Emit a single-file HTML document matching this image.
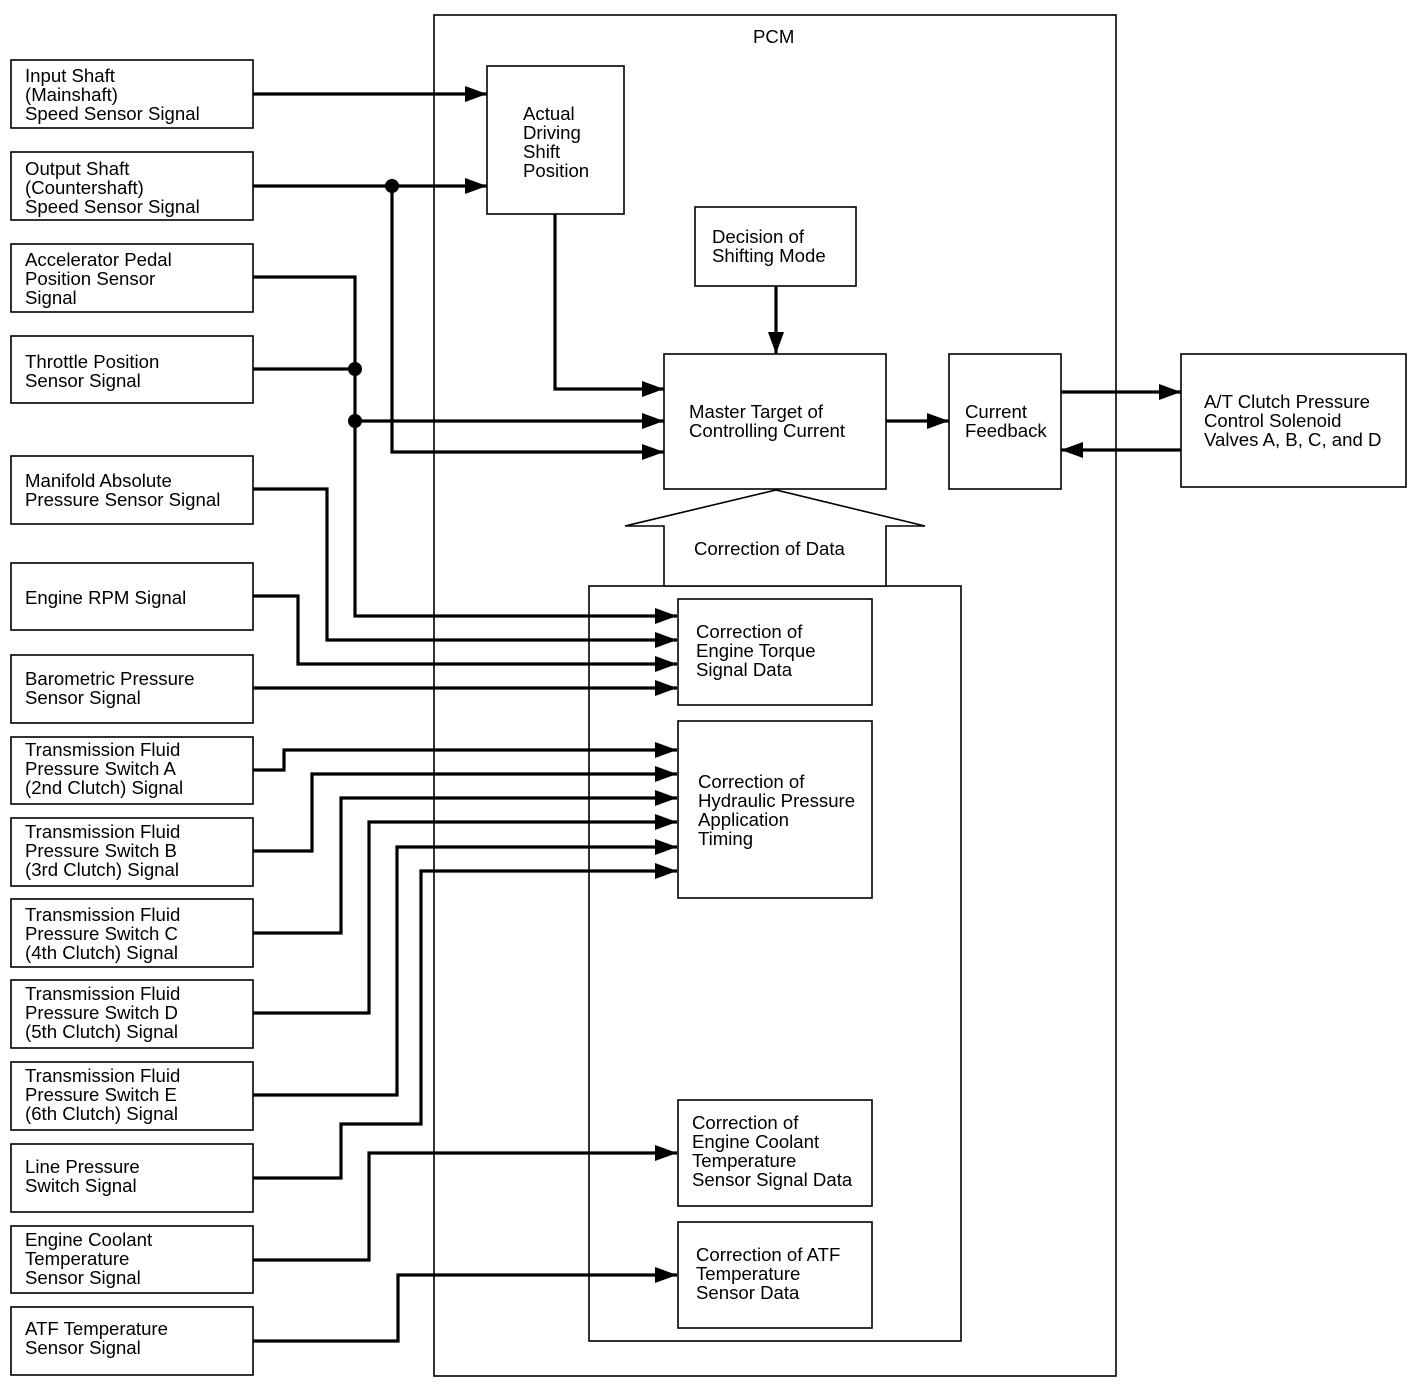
<!DOCTYPE html>
<html><head><meta charset="utf-8"><style>
html,body{margin:0;padding:0;background:#fff}
svg{display:block}
text{font-family:"Liberation Sans",Arial,sans-serif;font-size:18.6px;fill:#000}
</style></head><body>
<svg width="1422" height="1390" viewBox="0 0 1422 1390" xmlns="http://www.w3.org/2000/svg">
<defs>
<marker id="a" markerWidth="22" markerHeight="16" refX="22" refY="8" orient="auto" markerUnits="userSpaceOnUse">
<path d="M0,0 L22,8 L0,16 Z" fill="#000"/>
</marker>
</defs>
<g fill="none" stroke="#000" stroke-width="1.6">
<rect x="434" y="15" width="682" height="1361"/>
<rect x="589" y="586" width="372" height="755"/>
<rect x="487" y="66" width="137" height="148"/>
<rect x="695" y="207" width="161" height="79"/>
<rect x="664" y="354" width="222" height="135"/>
<rect x="949" y="354" width="112" height="135"/>
<rect x="1181" y="354" width="225" height="133"/>
<rect x="678" y="599" width="194" height="106"/>
<rect x="678" y="721" width="194" height="177"/>
<rect x="678" y="1100" width="194" height="106"/>
<rect x="678" y="1222" width="194" height="106"/>
<polygon points="664,586 664,526 625,526 776,490 925,526 886,526 886,586" fill="#fff"/>
<rect x="11" y="60" width="242" height="68"/>
<rect x="11" y="152" width="242" height="68"/>
<rect x="11" y="244" width="242" height="68"/>
<rect x="11" y="336" width="242" height="67"/>
<rect x="11" y="456" width="242" height="68"/>
<rect x="11" y="563" width="242" height="67"/>
<rect x="11" y="655" width="242" height="68"/>
<rect x="11" y="737" width="242" height="67"/>
<rect x="11" y="818" width="242" height="68"/>
<rect x="11" y="899" width="242" height="68"/>
<rect x="11" y="980" width="242" height="68"/>
<rect x="11" y="1062" width="242" height="68"/>
<rect x="11" y="1144" width="242" height="68"/>
<rect x="11" y="1226" width="242" height="67"/>
<rect x="11" y="1307" width="242" height="68"/>
</g>
<g fill="none" stroke="#000" stroke-width="3.2" marker-end="url(#a)">
<polyline points="253,94 487,94"/>
<polyline points="253,186 487,186"/>
<polyline points="392,186 392,452 664,452"/>
<polyline points="555,214 555,389 664,389"/>
<polyline points="355,421 664,421"/>
<polyline points="776,286 776,354"/>
<polyline points="886,421 949,421"/>
<polyline points="1061,392 1181,392"/>
<polyline points="1181,450 1061,450"/>
<polyline points="253,277 355,277 355,616 677,616"/>
<polyline points="253,489 327,489 327,640 677,640"/>
<polyline points="253,596 298,596 298,664 677,664"/>
<polyline points="253,688 677,688"/>
<polyline points="253,770 284,770 284,750 677,750"/>
<polyline points="253,851 312,851 312,774 677,774"/>
<polyline points="253,933 341,933 341,798 677,798"/>
<polyline points="253,1013 369,1013 369,822 677,822"/>
<polyline points="253,1095 397,1095 397,847 677,847"/>
<polyline points="253,1178 341,1178 341,1124 421,1124 421,871 677,871"/>
<polyline points="253,1260 369,1260 369,1153 677,1153"/>
<polyline points="253,1341 398,1341 398,1275 677,1275"/>
</g>
<line x1="253" y1="369" x2="355" y2="369" stroke="#000" stroke-width="3.2"/>
<circle cx="392" cy="186" r="7"/>
<circle cx="355" cy="369" r="7"/>
<circle cx="355" cy="421" r="7"/>
<text x="753" y="43">PCM</text>
<text x="523" y="120">Actual</text><text x="523" y="139">Driving</text><text x="523" y="158">Shift</text><text x="523" y="177">Position</text>
<text x="712" y="243">Decision of</text><text x="712" y="262">Shifting Mode</text>
<text x="689" y="418">Master Target of</text><text x="689" y="437">Controlling Current</text>
<text x="965" y="418">Current</text><text x="965" y="437">Feedback</text>
<text x="1204" y="408">A/T Clutch Pressure</text><text x="1204" y="427">Control Solenoid</text><text x="1204" y="446">Valves A, B, C, and D</text>
<text x="694" y="555">Correction of Data</text>
<text x="696" y="638">Correction of</text><text x="696" y="657">Engine Torque</text><text x="696" y="676">Signal Data</text>
<text x="698" y="788">Correction of</text><text x="698" y="807">Hydraulic Pressure</text><text x="698" y="826">Application</text><text x="698" y="845">Timing</text>
<text x="692" y="1129">Correction of</text><text x="692" y="1148">Engine Coolant</text><text x="692" y="1167">Temperature</text><text x="692" y="1186">Sensor Signal Data</text>
<text x="696" y="1261">Correction of ATF</text><text x="696" y="1280">Temperature</text><text x="696" y="1299">Sensor Data</text>
<text x="25" y="82">Input Shaft</text><text x="25" y="101">(Mainshaft)</text><text x="25" y="120">Speed Sensor Signal</text>
<text x="25" y="175">Output Shaft</text><text x="25" y="194">(Countershaft)</text><text x="25" y="213">Speed Sensor Signal</text>
<text x="25" y="266">Accelerator Pedal</text><text x="25" y="285">Position Sensor</text><text x="25" y="304">Signal</text>
<text x="25" y="368">Throttle Position</text><text x="25" y="387">Sensor Signal</text>
<text x="25" y="487">Manifold Absolute</text><text x="25" y="506">Pressure Sensor Signal</text>
<text x="25" y="604">Engine RPM Signal</text>
<text x="25" y="685">Barometric Pressure</text><text x="25" y="704">Sensor Signal</text>
<text x="25" y="756">Transmission Fluid</text><text x="25" y="775">Pressure Switch A</text><text x="25" y="794">(2nd Clutch) Signal</text>
<text x="25" y="838">Transmission Fluid</text><text x="25" y="857">Pressure Switch B</text><text x="25" y="876">(3rd Clutch) Signal</text>
<text x="25" y="921">Transmission Fluid</text><text x="25" y="940">Pressure Switch C</text><text x="25" y="959">(4th Clutch) Signal</text>
<text x="25" y="1000">Transmission Fluid</text><text x="25" y="1019">Pressure Switch D</text><text x="25" y="1038">(5th Clutch) Signal</text>
<text x="25" y="1082">Transmission Fluid</text><text x="25" y="1101">Pressure Switch E</text><text x="25" y="1120">(6th Clutch) Signal</text>
<text x="25" y="1173">Line Pressure</text><text x="25" y="1192">Switch Signal</text>
<text x="25" y="1246">Engine Coolant</text><text x="25" y="1265">Temperature</text><text x="25" y="1284">Sensor Signal</text>
<text x="25" y="1335">ATF Temperature</text><text x="25" y="1354">Sensor Signal</text>
</svg>
</body></html>
